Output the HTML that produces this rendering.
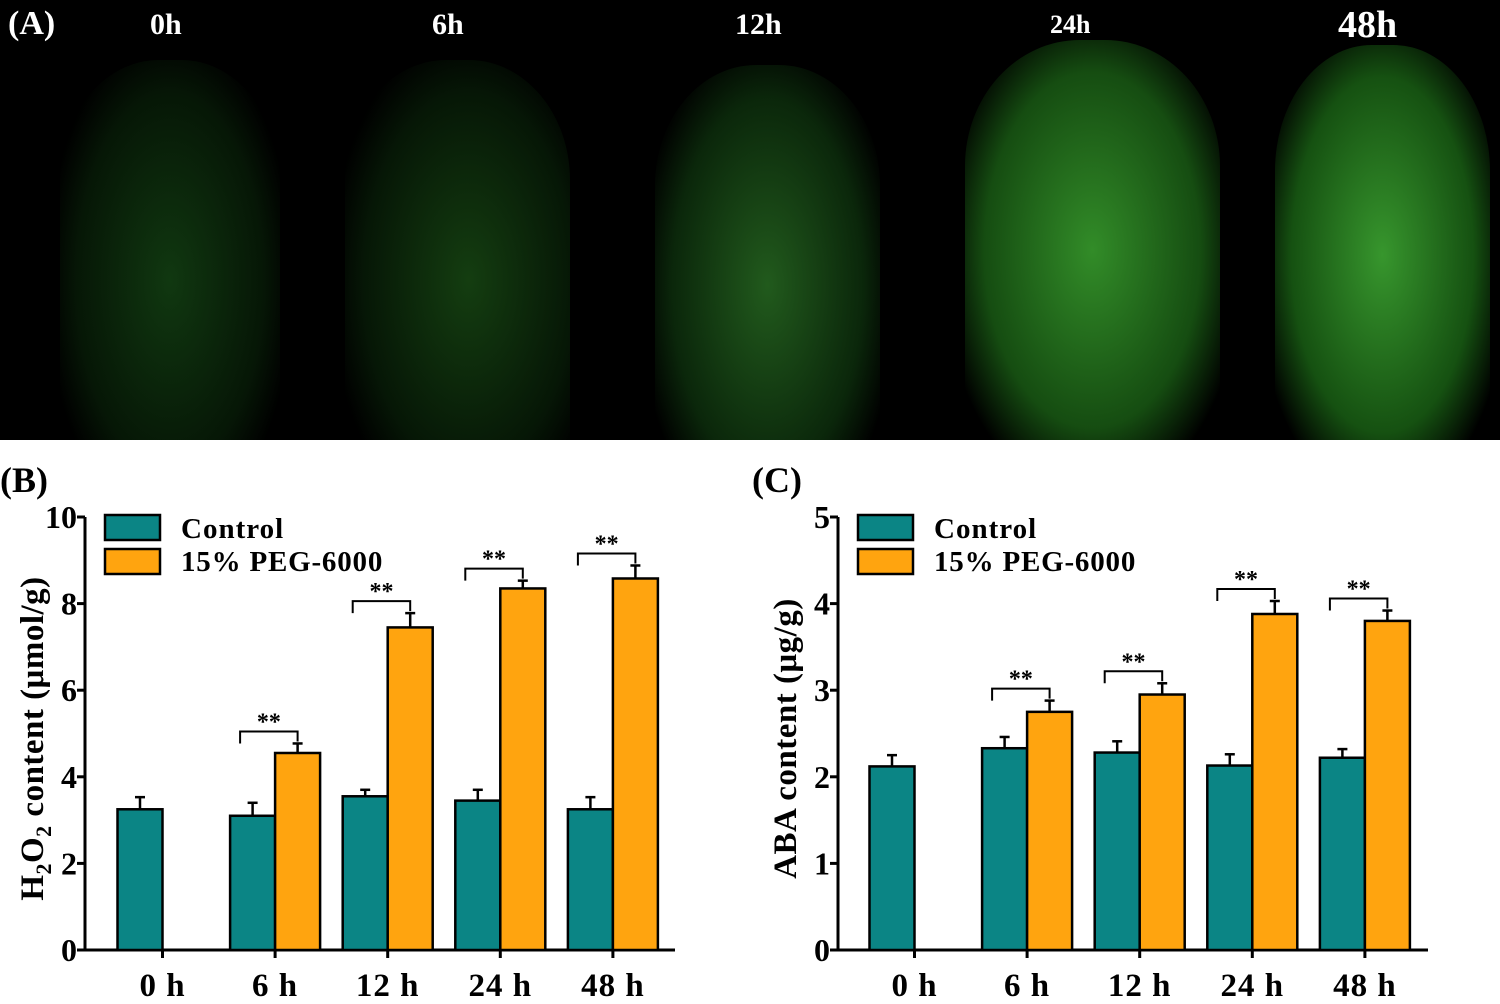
<!DOCTYPE html>
<html><head><meta charset="utf-8"><style>
body{margin:0;width:1500px;height:1004px;background:#fff;overflow:hidden;font-family:"Liberation Serif",serif;}
#panelA{position:absolute;left:0;top:0;width:1500px;height:440px;background:#000;overflow:hidden;}
.root{position:absolute;border-radius:45% 45% 0 0/30% 30% 0 0;}
.lbl{position:absolute;color:#fff;font-weight:bold;font-size:30px;}
svg text{font-family:"Liberation Serif",serif;font-weight:bold;}
</style></head><body>
<div id="panelA">
 <div class="root" style="left:60px;top:60px;width:220px;height:400px;background:radial-gradient(ellipse at 50% 55%,rgba(18,62,18,0.9),rgba(10,38,10,0.6) 60%,rgba(0,0,0,0) 80%);"></div>
 <div class="root" style="left:345px;top:60px;width:225px;height:400px;background:radial-gradient(ellipse at 55% 55%,rgba(22,68,18,0.9),rgba(10,38,10,0.6) 60%,rgba(0,0,0,0) 80%);"></div>
 <div class="root" style="left:655px;top:65px;width:225px;height:400px;background:radial-gradient(ellipse at 50% 55%,rgba(35,95,30,0.95),rgba(15,55,15,0.7) 60%,rgba(0,0,0,0) 82%);"></div>
 <div class="root" style="left:965px;top:40px;width:255px;height:420px;background:radial-gradient(ellipse at 50% 50%,rgba(50,140,40,1),rgba(25,90,20,0.85) 60%,rgba(0,0,0,0) 85%);"></div>
 <div class="root" style="left:1275px;top:45px;width:215px;height:420px;background:radial-gradient(ellipse at 50% 50%,rgba(55,150,45,1),rgba(25,95,20,0.85) 60%,rgba(0,0,0,0) 85%);"></div>
 <div class="lbl" style="left:8px;top:5px;font-size:34px;">(A)</div>
 <div class="lbl" style="left:150px;top:8px;">0h</div>
 <div class="lbl" style="left:432px;top:8px;">6h</div>
 <div class="lbl" style="left:735px;top:8px;">12h</div>
 <div class="lbl" style="left:1050px;top:10px;font-size:26px;">24h</div>
 <div class="lbl" style="left:1338px;top:3px;font-size:38px;">48h</div>
</div>
<svg id="charts" width="1500" height="1004" style="position:absolute;left:0;top:0" xmlns="http://www.w3.org/2000/svg"></svg>
<script>
const categories=["0 h","6 h","12 h","24 h","48 h"];
const h2o2Control=[3.25,3.1,3.55,3.45,3.25];
const h2o2ControlErr=[0.28,0.3,0.15,0.25,0.28];
const h2o2Peg=[null,4.55,7.45,8.35,8.58];
const h2o2PegErr=[null,0.22,0.33,0.18,0.3];
const h2o2Ticks=[0,2,4,6,8,10];
const abaControl=[2.12,2.33,2.28,2.13,2.22];
const abaControlErr=[0.13,0.13,0.13,0.13,0.1];
const abaPeg=[null,2.75,2.95,3.88,3.8];
const abaPegErr=[null,0.13,0.13,0.15,0.12];
const abaTicks=[0,1,2,3,4,5];
const sigB=[false,true,true,true,true];
const sigC=[false,true,true,true,true];
const NS="http://www.w3.org/2000/svg";
const svg=document.getElementById('charts');
function mk(tag,attrs,parent){const e=document.createElementNS(NS,tag);for(const k in attrs)e.setAttribute(k,attrs[k]);(parent||svg).appendChild(e);return e;}
function chart(cfg){
 const g=mk('g',{});
 
 
 const x0=cfg.axisX,y0=950,yTop=517,maxV=cfg.ticks[cfg.ticks.length-1];
 const ys=v=>y0-(v/maxV)*(y0-yTop);
 const gx=i=>cfg.firstX+i*112.6;
 const bw=45;
 const ya=mk('line',{x1:x0,y1:yTop,x2:x0,y2:y0,stroke:'#000','stroke-width':3},g);
 
 const xa=mk('line',{x1:x0,y1:y0,x2:x0+cfg.axisLen,y2:y0,stroke:'#000','stroke-width':3},g);
 
 cfg.ticks.forEach(t=>{
  mk('line',{x1:x0-8,y1:ys(t),x2:x0,y2:ys(t),stroke:'#000','stroke-width':3},g);
  const tl=mk('text',{x:x0-8,y:ys(t)+11,'text-anchor':'end','font-size':32},g);
  tl.textContent=t;
  
 });
 categories.forEach((c,i)=>{
  const cx=gx(i)+bw;
  mk('line',{x1:cx,y1:y0,x2:cx,y2:y0+8,stroke:'#000','stroke-width':3},g);
  const tl=mk('text',{x:cx,y:y0+46,'text-anchor':'middle','font-size':33,'letter-spacing':1},g);
  tl.textContent=c;
  
 });
 function bar(x,v,e,fill,nm){
  if(v==null)return;
  const ec=x+bw/2;
  mk('line',{x1:ec,y1:ys(v),x2:ec,y2:ys(v+e),stroke:'#000','stroke-width':2.5},g);
  mk('line',{x1:ec-5,y1:ys(v+e),x2:ec+5,y2:ys(v+e),stroke:'#000','stroke-width':2.5},g);
  const r=mk('rect',{x:x,y:ys(v),width:bw,height:y0-ys(v),fill:fill,stroke:'#000','stroke-width':2.5},g);
  
 }
 categories.forEach((c,i)=>{
  bar(gx(i),cfg.ctrl[i],cfg.ctrlErr[i],'#0b8585','bar-control-'+i);
  bar(gx(i)+bw,cfg.peg[i],cfg.pegErr[i],'#ffa40f','bar-peg-'+i);
  if(cfg.sig[i]){
   const top=Math.max(cfg.ctrl[i]+cfg.ctrlErr[i],cfg.peg[i]+cfg.pegErr[i]);
   const by=ys(top)-12, lx=gx(i)+10, rx=gx(i)+bw*1.5;
   const br=mk('path',{d:`M${lx} ${by+12}V${by}H${rx}V${by+10}`,fill:'none',stroke:'#000','stroke-width':2},g);
   
   const st=mk('text',{x:(lx+rx)/2,y:by-2,'text-anchor':'middle','font-size':24},g);
   st.textContent='**';
   
  }
 });
 const lg=mk('g',{},g);
 
 mk('rect',{x:x0+20,y:515,width:55,height:25,fill:'#0b8585',stroke:'#000','stroke-width':2.5},lg);
 mk('rect',{x:x0+20,y:549,width:55,height:25,fill:'#ffa40f',stroke:'#000','stroke-width':2.5},lg);
 const t1=mk('text',{x:x0+96,y:538,'font-size':29,'letter-spacing':1},lg);t1.textContent='Control';
 
 const t2=mk('text',{x:x0+96,y:571,'font-size':29,'letter-spacing':0.8},lg);t2.textContent='15% PEG-6000';
 
 const pl=mk('text',{x:cfg.labelX,y:492,'font-size':36},g);pl.textContent=cfg.label;
 
 const yt=mk('text',{x:0,y:0,'text-anchor':'middle','font-size':33,'letter-spacing':0.5,transform:`translate(${cfg.titleX},${(yTop+y0)/2+5}) rotate(-90)`},g);
 yt.innerHTML=cfg.title;
 
}
chart({name:'h2o2-chart',axisX:85,axisLen:590,firstX:117.5,ctrl:h2o2Control,ctrlErr:h2o2ControlErr,peg:h2o2Peg,pegErr:h2o2PegErr,ticks:h2o2Ticks,sig:sigB,label:'(B)',labelX:0,titleX:43,title:'H<tspan font-size="22" dy="8">2</tspan><tspan dy="-8">O</tspan><tspan font-size="22" dy="8">2</tspan><tspan dy="-8"> content (μmol/g)</tspan>'});
chart({name:'aba-chart',axisX:838,axisLen:590,firstX:869.5,ctrl:abaControl,ctrlErr:abaControlErr,peg:abaPeg,pegErr:abaPegErr,ticks:abaTicks,sig:sigC,label:'(C)',labelX:752,titleX:796,title:'ABA content (μg/g)'});
</script>
</body></html>
